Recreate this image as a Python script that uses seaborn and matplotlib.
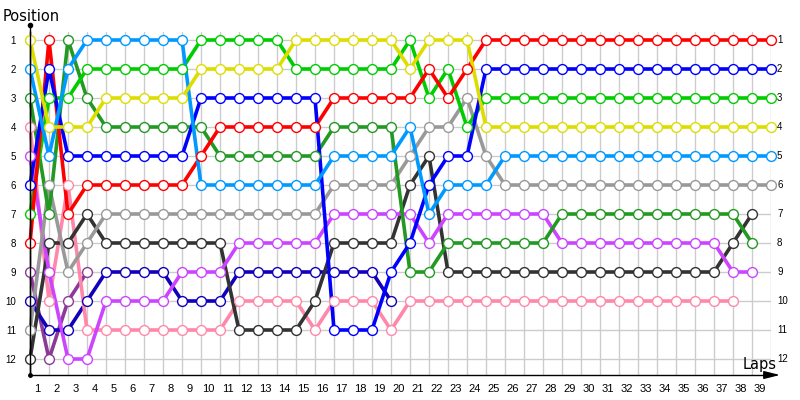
import matplotlib
matplotlib.use("Agg")
import matplotlib.pyplot as plt
import matplotlib.transforms as mtransforms
from matplotlib.lines import Line2D
import pandas as pd
import seaborn as sns

# ---------------- data ----------------
lap_numbers = list(range(1, 40))
lap_labels = [str(n) for n in lap_numbers]
position_labels = [str(p) for p in range(1, 13)]

red = [8, 1, 7, 6, 6, 6, 6, 6, 6, 5, 4, 4, 4, 4, 4, 4, 3, 3, 3, 3, 3, 2, 3, 2,
       1, 1, 1, 1, 1, 1, 1, 1, 1, 1, 1, 1, 1, 1, 1, 1]
blue = [6, 2, 5, 5, 5, 5, 5, 5, 5, 3, 3, 3, 3, 3, 3, 3, 11, 11, 11, 9, 8, 6, 5, 5,
        2, 2, 2, 2, 2, 2, 2, 2, 2, 2, 2, 2, 2, 2, 2, 2]
green = [7, 3, 3, 2, 2, 2, 2, 2, 2, 1, 1, 1, 1, 1, 2, 2, 2, 2, 2, 2, 1, 3, 2, 4,
         3, 3, 3, 3, 3, 3, 3, 3, 3, 3, 3, 3, 3, 3, 3, 3]
yellow = [1, 4, 4, 4, 3, 3, 3, 3, 3, 2, 2, 2, 2, 2, 1, 1, 1, 1, 1, 1, 2, 1, 1, 1,
          4, 4, 4, 4, 4, 4, 4, 4, 4, 4, 4, 4, 4, 4, 4, 4]
light_blue = [2, 5, 2, 1, 1, 1, 1, 1, 1, 6, 6, 6, 6, 6, 6, 6, 5, 5, 5, 5, 4, 7, 6, 6, 6,
              5, 5, 5, 5, 5, 5, 5, 5, 5, 5, 5, 5, 5, 5, 5]
grey = [11, 6, 9, 8, 7, 7, 7, 7, 7, 7, 7, 7, 7, 7, 7, 7, 6, 6, 6, 6, 5, 4, 4, 3, 5,
        6, 6, 6, 6, 6, 6, 6, 6, 6, 6, 6, 6, 6, 6, 6]
dark_green = [3, 7, 1, 3, 4, 4, 4, 4, 4, 4, 5, 5, 5, 5, 5, 5, 4, 4, 4, 4, 9, 9,
              8, 8, 8, 8, 8, 8, 7, 7, 7, 7, 7, 7, 7, 7, 7, 7, 8]
purple = [5, 9, 12, 12, 10, 10, 10, 10, 9, 9, 9, 8, 8, 8, 8, 8, 7, 7, 7, 7, 7, 8,
          7, 7, 7, 7, 7, 7, 8, 8, 8, 8, 8, 8, 8, 8, 8, 9, 9]
black = [12, 8, 8, 7, 8, 8, 8, 8, 8, 8, 8, 11, 11, 11, 11, 10, 8, 8, 8, 8, 6, 5,
         9, 9, 9, 9, 9, 9, 9, 9, 9, 9, 9, 9, 9, 9, 9, 8, 7]
pink = [4, 10, 6, 11, 11, 11, 11, 11, 11, 11, 11, 10, 10, 10, 10, 11, 10, 10, 10, 11,
        10, 10, 10, 10, 10, 10, 10, 10, 10, 10, 10, 10, 10, 10, 10, 10, 10, 10]
dark_blue = [10, 11, 11, 10, 9, 9, 9, 9, 10, 10, 10, 9, 9, 9, 9, 9, 9, 9, 9, 10]
dark_purple = [9, 12, 10, 9]

drivers = ["dark_purple", "dark_blue", "pink", "black", "purple", "grey",
           "dark_green", "green", "red", "blue", "light_blue", "yellow"]
series = {
    "red": red, "blue": blue, "green": green, "yellow": yellow,
    "light_blue": light_blue, "grey": grey, "dark_green": dark_green,
    "purple": purple, "black": black, "pink": pink,
    "dark_blue": dark_blue, "dark_purple": dark_purple,
}
colors = {
    "red": "#ff0000", "blue": "#0000ff", "green": "#00cc00", "yellow": "#dddd00",
    "light_blue": "#0099ff", "grey": "#999999", "dark_green": "#229922",
    "purple": "#cc44ff", "black": "#333333", "pink": "#ff88aa",
    "dark_blue": "#1100bb", "dark_purple": "#8b3a98",
}

rows = []
for d in drivers:
    for lap, pos in enumerate(series[d]):
        rows.append({"driver": d, "lap": lap, "pos": pos})
df = pd.DataFrame(rows)

# ---------------- figure ----------------
sns.set_theme(style="white")
plt.rcParams["font.family"] = ["DejaVu Sans"]

W, H = 800, 400
fig = plt.figure(figsize=(8, 4), dpi=100)
ax_left, ax_right, ax_bottom, ax_top = 30, 771, 375, 32
ax = fig.add_axes([ax_left / W, (H - ax_bottom) / H,
                   (ax_right - ax_left) / W, (ax_bottom - ax_top) / H])

# rows: pos 1 at y=40px, spacing 29px
y_top = 1 + (ax_top - 40) / 29
y_bot = 1 + (ax_bottom - 40) / 29

for d in drivers:
    sub = df[df["driver"] == d]
    sns.lineplot(data=sub, x="lap", y="pos", color=colors[d], linewidth=2.6,
                 sort=False, estimator=None, legend=False, ax=ax,
                 clip_on=False, zorder=2)
for d in drivers:
    sub = df[df["driver"] == d]
    sns.scatterplot(data=sub, x="lap", y="pos", color="white",
                    edgecolor=colors[d], linewidth=1.0, s=50, legend=False,
                    ax=ax, clip_on=False, zorder=3)

ax.set_xlim(0, 39)
ax.set_ylim(y_bot, y_top)

# grid
for lap in range(0, 40):
    ax.axvline(lap, color="#cccccc", linewidth=1, zorder=0)
for p in range(1, 13):
    ax.axhline(p, color="#cccccc", linewidth=1, zorder=0)

# ticks
ax.set_xticks([n - 0.6 for n in lap_numbers])
ax.set_xticklabels(lap_labels, fontsize=8, family="Liberation Sans")
ax.set_yticks(list(range(1, 13)))
ax.set_yticklabels(position_labels, fontsize=7, family="Liberation Sans")
ax.tick_params(axis="x", length=0, pad=6.5, colors="black")
ax.tick_params(axis="y", length=0, pad=10, colors="black")
ax.set_xlabel("")
ax.set_ylabel("")

# right-side labels
trans = mtransforms.blended_transform_factory(ax.transAxes, ax.transData)
offset = mtransforms.ScaledTranslation(6 / 100, 0, fig.dpi_scale_trans)
for p, lab in zip(range(1, 13), position_labels):
    ax.text(1.0, p, lab, transform=trans + offset, ha="left", va="center",
            fontsize=7, family="Liberation Sans", color="black")

for s in ["top", "right"]:
    ax.spines[s].set_visible(False)
for s in ["left", "bottom"]:
    ax.spines[s].set_color("black")
    ax.spines[s].set_linewidth(1)

# axis decorations: extended y axis with dots, x axis arrow
fig.add_artist(Line2D([30 / W, 30 / W], [(H - 375) / H, (H - 25) / H],
                      transform=fig.transFigure, color="black", linewidth=1))
fig.add_artist(Line2D([30 / W], [(H - 25) / H], transform=fig.transFigure,
                      marker="o", markersize=3, color="black"))
fig.add_artist(Line2D([30 / W], [(H - 375) / H], transform=fig.transFigure,
                      marker="o", markersize=2.5, color="black"))
ax.annotate("", xy=(780 / W, (H - 375) / H), xytext=(770 / W, (H - 375) / H),
            xycoords="figure fraction", textcoords="figure fraction",
            arrowprops=dict(arrowstyle="-|>,head_length=0.8,head_width=0.2",
                            color="black", lw=1, mutation_scale=12,
                            shrinkA=0, shrinkB=0))

fig.text(3 / W, (H - 21) / H, "Position", fontsize=10.5, ha="left",
         va="baseline", color="black")
fig.text(743 / W, (H - 369) / H, "Laps", fontsize=10.5, ha="left",
         va="baseline", color="black")

fig.savefig("out.png", dpi=100)
